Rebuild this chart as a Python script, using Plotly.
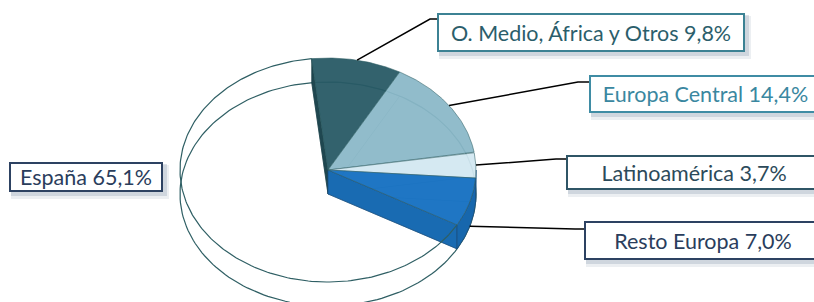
import numpy as np
import plotly.graph_objects as go

# ---- data ----
regions = ["O. Medio, África y Otros", "Europa Central", "Latinoamérica", "Resto Europa", "España"]
shares = [9.8, 14.4, 3.7, 7.0, 65.1]
share_labels = ["9,8%", "14,4%", "3,7%", "7,0%", "65,1%"]

# ---- style ----
top_colors = ["rgba(40,90,101,0.95)", "rgba(138,184,200,0.94)", "rgba(210,232,241,0.94)",
              "rgba(24,114,194,0.97)", None]
rim_colors = ["#224c55", "#7aa8b8", "#bcd8e4", "#1767ad", None]
OUT = "#2f5f64"
text_colors = ["#2b5e6b", "#3a87a0", "#2c4a5a", "#2a3d5c", "#2a3d5c"]
border_colors = ["#3c8294", "#3f8ca4", "#2f5566", "#2d4262", "#2d4262"]

CX, CY, A, B, DEPTH = 328, 170, 148, 112, 24
START = 96.3
FONT = "Lato"
FSIZE = 21.5

def pt(t_deg, dz=0.0):
    t = np.radians(t_deg)
    return CX + A * np.cos(t), CY - B * np.sin(t) + dz

def arc(t0, t1, dz=0.0, n=80):
    ts = np.radians(np.linspace(t0, t1, n))
    return list(CX + A * np.cos(ts)), list(CY - B * np.sin(ts) + dz)

bounds = [START]
for s in shares:
    bounds.append(bounds[-1] - s / 100 * 360)

fig = go.Figure()

def poly(xs, ys, fill, line_color="rgba(0,0,0,0)", lw=0.0):
    fig.add_trace(go.Scatter(x=xs + [xs[0]], y=ys + [ys[0]], mode="lines", fill="toself",
                             fillcolor=fill, line=dict(color=line_color, width=lw),
                             hoverinfo="skip", showlegend=False))

def line(xs, ys, color=OUT, lw=1.2):
    fig.add_trace(go.Scatter(x=xs, y=ys, mode="lines", line=dict(color=color, width=lw),
                             hoverinfo="skip", showlegend=False))

# bottom ellipse (seen through the transparent slice)
bx, by = arc(0, 360, DEPTH, 200)
line(bx, by, OUT, 1.2)

# faint bottom-face edges of colored slices
for i in range(4):
    ax_, ay_ = arc(bounds[i], bounds[i + 1], DEPTH)
    line([CX] + ax_ + [CX], [CY + DEPTH] + ay_ + [CY + DEPTH], "rgba(47,95,100,0.35)", 0.8)

# radial faces
sx, sy = pt(START)
poly([CX, sx, sx, CX], [CY, sy, sy + DEPTH, CY + DEPTH], "#1f4750", "#1b3f47", 0.8)
ex, ey = pt(bounds[4])
poly([CX, ex, ex, CX], [CY, ey, ey + DEPTH, CY + DEPTH], "#196bb2", "#1a4f80", 0.8)

# rim (front) faces
for i in range(4):
    t0, t1 = bounds[i], bounds[i + 1]
    a0, a1 = min(t0, 0.0), max(t1, -180.0)
    if a0 > a1:
        tx, ty = arc(a0, a1)
        bx_, by_ = arc(a1, a0, DEPTH)
        poly(tx + bx_, ty + by_, rim_colors[i], "#1a4f80", 0.8)

# top faces
for i in range(4):
    ax_, ay_ = arc(bounds[i], bounds[i + 1])
    poly([CX] + ax_, [CY] + ay_, top_colors[i], "rgba(47,95,100,0.7)", 0.8)

# transparent España slice outline on top face
ax_, ay_ = arc(bounds[4], bounds[5], 0, 200)
line(ax_, ay_, OUT, 1.2)

# ---- label boxes ----
boxes = [(437, 13, 745, 52), (589, 75, 822, 113), (566, 155, 822, 190),
         (584, 221, 822, 260), (9, 162, 163, 192)]
elbows = [(430, 19), (578, 82), (556, 159), (575, 229), None]
anchor_depth = [0, 0, 0, DEPTH, 0]

shapes = []
annotations = []
for i, (x0, y0, x1, y1) in enumerate(boxes):
    shapes.append(dict(type="rect", x0=x0 + 2, y0=y0 + 3, x1=x1 + 6, y1=y1 + 7,
                       fillcolor="rgba(150,165,185,0.18)", line=dict(width=0), layer="below"))
    shapes.append(dict(type="rect", x0=x0 + 2, y0=y0 + 2, x1=x1 + 4, y1=y1 + 4,
                       fillcolor="rgba(120,140,165,0.25)", line=dict(width=0), layer="below"))
    if elbows[i] is not None:
        mid = (bounds[i] + bounds[i + 1]) / 2
        px, py = pt(mid, anchor_depth[i])
        ex_, ey_ = elbows[i]
        shapes.append(dict(type="path",
                           path=f"M {px:.1f} {py:.1f} L {ex_} {ey_} L {x0} {ey_}",
                           line=dict(color="black", width=1.5), layer="above"))
    bw = 2
    annotations.append(dict(x=x0, y=y0, xref="x", yref="y", xanchor="left", yanchor="top",
                            text=f"{regions[i]} {share_labels[i]}", showarrow=False,
                            width=x1 - x0 - 2 * bw, height=y1 - y0 - 2 * bw,
                            align="center", valign="middle",
                            bgcolor="white", bordercolor=border_colors[i], borderwidth=bw,
                            borderpad=0,
                            font=dict(family=FONT, size=FSIZE, color=text_colors[i])))

fig.update_layout(
    width=814, height=302, margin=dict(l=0, r=0, t=0, b=0),
    paper_bgcolor="white", plot_bgcolor="white",
    xaxis=dict(range=[0, 814], visible=False, fixedrange=True),
    yaxis=dict(range=[302, 0], visible=False, fixedrange=True),
    shapes=shapes, annotations=annotations, showlegend=False,
)

fig.write_html("out.html", config={"displayModeBar": False, "staticPlot": True},
               post_script="document.body.style.margin='0px';")
